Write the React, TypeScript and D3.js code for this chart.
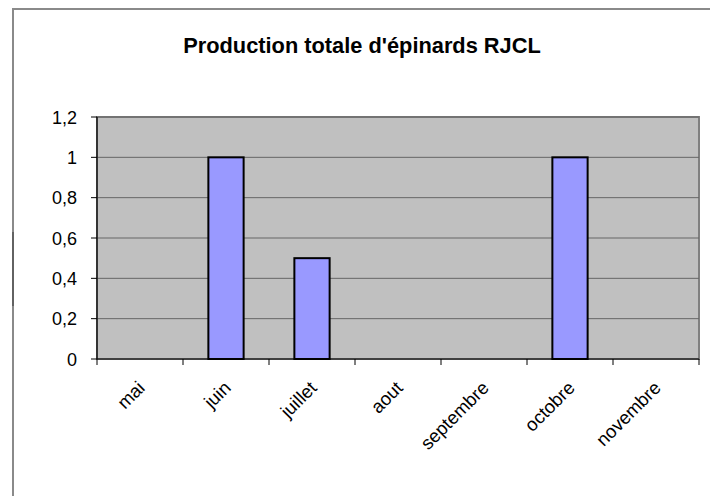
import React from "react";
import * as d3 from "d3";

const categories = ["mai", "juin", "juillet", "aout", "septembre", "octobre", "novembre"];
const values = [0, 1, 0.5, 0, 0, 1, 0];
const yTicks = [0, 0.2, 0.4, 0.6, 0.8, 1, 1.2];
const title = "Production totale d'épinards RJCL";

export default function App() {
  const W = 710, H = 496;
  const left = 97, right = 699, top = 117, bottom = 359;
  const x = d3.scaleBand<string>().domain(categories).range([left, right]).paddingInner(0).paddingOuter(0);
  const y = d3.scaleLinear().domain([0, 1.2]).range([bottom, top]);
  const bw = x.bandwidth();
  const barW = bw * 0.41;
  const fmt = (v: number) => d3.format(".1~f")(v).replace(".", ",");
  return (
    <svg width={W} height={H} style={{ position: "absolute", left: 0, top: 0, background: "#fff" }}
      fontFamily="'Liberation Sans', Arial, sans-serif">
      <rect x={13} y={9} width={720} height={520} fill="#fff" stroke="#8a8a8a" strokeWidth={2} />
      <line x1={13} x2={13} y1={232} y2={306} stroke="#555" strokeWidth={1.5} />
      <text x={362} y={53} textAnchor="middle" fontSize={21.8} fontWeight="bold" fill="#000">{title}</text>
      <rect x={left} y={top} width={right - left} height={bottom - top} fill="#c0c0c0" stroke="#808080" strokeWidth={2} />
      {yTicks.filter(t => t > 0).map(t => (
        <line key={"g" + t} x1={left} x2={right} y1={y(t)} y2={y(t)} stroke="#666" strokeWidth={1} />
      ))}
      {values.map((v, i) => v > 0 ? (
        <rect key={"b" + i} x={x(categories[i])! + (bw - barW) / 2} y={y(v)} width={barW} height={y(0) - y(v)}
          fill="#9999ff" stroke="#000" strokeWidth={2} />
      ) : null)}
      <line x1={left} x2={left} y1={top} y2={bottom} stroke="#000" strokeWidth={1.2} />
      <line x1={left} x2={right} y1={bottom} y2={bottom} stroke="#000" strokeWidth={1.2} />
      {yTicks.map(t => (
        <g key={"y" + t}>
          <line x1={left - 6} x2={left} y1={y(t)} y2={y(t)} stroke="#000" />
          <text x={77} y={y(t) + 6.5} textAnchor="end" fontSize={18} fill="#000">{fmt(t)}</text>
        </g>
      ))}
      {[...categories.map(c => x(c)!), right].map((p, i) => (
        <line key={"xt" + i} x1={p} x2={p} y1={bottom} y2={bottom + 6} stroke="#000" />
      ))}
      {categories.map(c => {
        const cx = x(c)! + bw / 2 + 6;
        const cy = bottom + 30;
        return (
          <text key={c} x={cx} y={cy} textAnchor="end" fontSize={18.5} fill="#000"
            transform={`rotate(-45 ${cx} ${cy})`}>{c}</text>
        );
      })}
    </svg>
  );
}
